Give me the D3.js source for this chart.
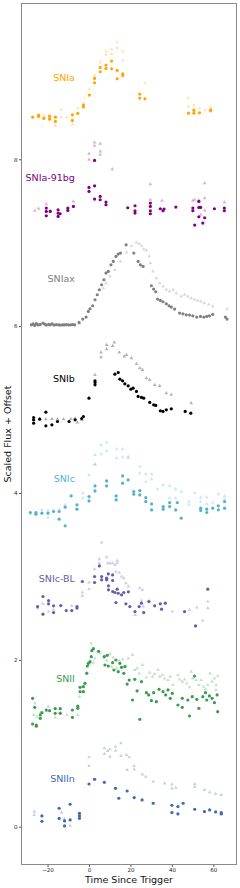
<!DOCTYPE html>
<html>
<head>
<meta charset="utf-8">
<script src="https://cdn.jsdelivr.net/npm/d3@7"></script>
<style>
  body { margin: 0; background: #fff; }
  svg { display: block; font-family: "DejaVu Sans", sans-serif; }
</style>
</head>
<body>
<div id="chart"></div>
<script>
// class names, bottom to top, with their offsets and colours
var classNames = ['SNIIn', 'SNII', 'SNIc-BL', 'SNIc', 'SNIb', 'SNIax', 'SNIa-91bg', 'SNIa'];
var offsets = [0, 1.2, 2.4, 3.6, 4.8, 6.0, 7.2, 8.4];
var colors = ['#3f69b1', '#3b9b4e', '#6b5aad', '#4fb3d0', '#000000', '#808080', '#800080', '#ffa500'];
var xTicks = [-20, 0, 20, 40, 60];
var yTicks = [0, 2, 4, 6, 8];

// [time, scaled flux] - dots = circles, tris = triangles
var snIaDots = [[-27.2,0.105],[-24.3,0.129],[-24.3,0.113],[-21.8,0.089],[-19,0.113],[-19,0.081],[-16.2,0.105],[-16.2,0.053],
  [-8,0.133],[-8,0.065],[-5.4,0.149],[-2.7,0.249],[-2.7,0.225],[0.2,0.369],[2.7,0.569],[2.7,0.517],[5.4,0.701],[5.4,0.649],
  [8.2,0.729],[8.2,0.689],[10.9,0.777],[10.9,0.685],[13.6,0.665],[13.6,0.565],[16.3,0.625],[16.3,0.605],[24.5,0.381],[24.5,0.333],
  [27,0.325],[48,0.153],[50.6,0.185],[50.6,0.153],[53.3,0.157],[58.7,0.193],[58.7,0.181]];
var snIaTris = [[-21.8,0.113],[-19,0.129],[-16.2,0.005],[-13.4,0.193],[-13.4,0.105],[-10.7,0.105],[-8,0.025],[-5.4,0.209],
  [-2.7,0.265],[0.2,0.433],[2.7,0.601],[5.4,0.761],[8.2,0.893],[8.2,0.853],[10.9,0.92],[10.9,0.864],[13.6,1.004],[13.6,0.936],
  [16.3,0.893],[16.3,0.785],[27,0.513],[48,0.333],[48,0.233],[50.6,0.249],[50.6,0.205],[53.3,0.209],[56,0.189],[58.7,0.225]];

var sn91bgDots = [[-20.6,0.215],[-20.6,0.175],[-20.6,0.123],[-18.7,0.175],[-14.9,0.195],[-14.9,0.155],[-14.9,0.115],[-13.9,0.147],
  [-10.2,0.215],[-10.2,0.187],[-7.5,0.235],[0,0.462],[0,0.415],[2.7,0.786],[2.7,0.482],[2.7,0.323],[5.4,0.355],[5.4,0.315],
  [8.2,0.287],[8.2,0.255],[18.7,0.219],[22.2,0.243],[22.2,0.183],[22.2,0.155],[29.6,0.275],[29.6,0.235],[29.6,0.183],[29.6,0.147],
  [34.4,0.207],[35.7,0.183],[36.2,0.203],[41.9,0.227],[50.1,0.215],[50.1,0.183],[53,0.295],[53,0.223],[53.9,0.223],[53,0.111],
  [51,0.011],[54.9,0.035],[55.8,0.099],[60.5,0.207],[65.3,0.215],[65.3,0.183]];
var sn91bgTris = [[-26.2,0.183],[-24.3,0.207],[-20.6,0.263],[-18.7,0.187],[-7.5,0.295],[0,0.866],[0,0.794],[2.7,1.002],[2.7,0.962],
  [5.4,0.986],[5.4,0.894],[5.4,0.854],[11.2,0.682],[29.6,0.502],[29.6,0.315],[35.2,0.303],[50.1,0.303],[51,0.315],[53,0.31],
  [55.8,0.335],[55.8,0.514],[55.8,0.187],[53.9,0.135],[65.3,0.283]];

var snIaxDots = [[-27.8,0.016],[-27,0.028],[-26.2,0.008],[-25.4,0.03],[-24.6,0.014],[-23.5,0.02],[-22.2,0.036],[-21.4,0.024],
  [-20.6,0.012],[-19.5,0.02],[-18.7,0.016],[-17.8,0.026],[-16.8,0.012],[-15.8,0.018],[-14.7,0.016],[-13.9,0.012],[-12.9,0.016],
  [-12,0.014],[-11,0.018],[-9.9,0.014],[-8.8,0.016],[-7.8,0.018],[-6.9,0.016],[-4.8,0.044],[-3,0.084],[-1.4,0.108],[-0.3,0.176],
  [0.5,0.208],[1.8,0.244],[2.9,0.316],[4,0.376],[5,0.436],[6.1,0.496],[7.2,0.556],[8.2,0.636],[9.3,0.656],[10.6,0.735],
  [11.7,0.775],[13,0.835],[14.1,0.863],[15.2,0.875],[17.9,0.975],[21.6,0.875],[23.7,0.775],[24.8,0.735],[26.1,0.715],
  [30.1,0.484],[31.2,0.444],[32.2,0.412],[33.1,0.324],[34.4,0.308],[35.7,0.292],[37.3,0.268],[38.6,0.244],[39.7,0.228],
  [41.3,0.204],[43.7,0.156],[45.3,0.148],[46.9,0.136],[48.5,0.132],[50.1,0.124],[52,0.108],[53.8,0.116],[55.4,0.108],
  [56.8,0.116],[58.1,0.124],[59.7,0.14],[65.8,0.108],[66.6,0.084]];
var snIaxTris = [[-4.6,0.028],[6.9,0.456],[8.2,0.516],[10.1,0.596],[12.5,0.675],[15.2,0.775],[18.1,0.883],[20.5,0.96],
  [22.9,1.003],[24.2,0.987],[25.3,0.963],[26.4,0.923],[27.7,0.907],[29,0.835],[29.6,0.755],[30.9,0.655],[32.5,0.575],
  [34.1,0.516],[35.7,0.476],[37.3,0.436],[38.9,0.416],[40.5,0.436],[42.1,0.396],[44.5,0.356],[46.1,0.376],[47.7,0.356],
  [49.3,0.336],[50.9,0.316],[52.5,0.304],[54.1,0.296],[55.7,0.276],[57.8,0.256],[59.7,0.236],[66.6,0.204]];

var snIbDots = [[-26.7,0.105],[-26.7,0.077],[-26.7,0.037],[-23.8,0.085],[-20.8,0.169],[-20.8,0.005],[-17.9,0.017],[-15.2,0.057],
  [-9.6,0.057],[-6.7,0.077],[-3.5,0.093],[-2.7,0.117],[0,0.337],[2.9,0.544],[2.9,0.524],[2.9,0.496],[12.5,0.624],[14.1,0.644],
  [14.9,0.564],[16.2,0.544],[17.3,0.508],[18.9,0.484],[20.2,0.444],[21.3,0.456],[22.9,0.417],[23.7,0.357],[25.3,0.345],
  [26.4,0.337],[29.3,0.285],[31.2,0.257],[32.2,0.25],[34.4,0.185],[35.7,0.177],[37.3,0.197],[39.7,0.209],[46.4,0.177],[49.1,0.157]];
var snIbTris = [[-26.7,0.077],[-23.8,0.09],[-20.8,0.085],[-17.9,0.089],[-15.2,0.085],[-12.3,0.085],[-8.8,0.089],[-6.7,0.093],
  [-5.6,0.045],[-3.5,0.077],[2.9,0.616],[5.8,0.828],[5.8,0.884],[8.5,0.976],[8.5,0.924],[12.2,1.004],[11.4,0.964],[14.6,0.884],
  [17,0.836],[18.1,0.856],[20.5,0.816],[22.9,0.748],[24.5,0.696],[25.8,0.676],[27.7,0.576],[29.3,0.556],[31.7,0.496],
  [34.1,0.484],[37.3,0.397],[39.7,0.377],[49.3,0.277]];

var snIcDots = [[-28.3,0.166],[-25.6,0.166],[-25.6,0.146],[-22.7,0.158],[-19.8,0.158],[-17.1,0.178],[-14.4,0.178],[-14.4,0.086],
  [-11.5,0.23],[-11.5,0.006],[-8.6,0.365],[-5.8,0.258],[-5.8,0.206],[0,0.357],[0,0.305],[2.9,0.485],[2.9,0.425],[8.5,0.545],
  [8.5,0.485],[13.1,0.365],[13.1,0.317],[16.2,0.605],[16.2,0.517],[18.9,0.557],[21.6,0.417],[21.6,0.385],[24.5,0.429],
  [24.5,0.377],[27.4,0.345],[27.4,0.297],[30.2,0.269],[30.2,0.197],[35.8,0.237],[35.8,0.205],[38.9,0.285],[38.9,0.237],
  [41.8,0.197],[42.6,0.285],[44.5,0.098],[53.9,0.218],[53.9,0.19],[56.8,0.206],[56.8,0.166],[59.7,0.218],[62.4,0.246],
  [62.4,0.198],[65.4,0.297],[65.4,0.218]];
var snIcTris = [[-28.3,0.146],[-22.7,0.198],[-19.8,0.19],[-19.8,0.106],[-17.1,0.19],[-14.4,0.206],[-11.5,0.258],[-3,0.397],
  [-3,0.337],[0,0.617],[2.9,0.749],[2.9,0.857],[2.9,0.737],[5.8,0.977],[5.8,0.865],[8.5,1.005],[8.5,0.905],[13.3,0.925],
  [13.3,0.817],[16.2,0.925],[16.2,0.829],[18.9,0.837],[18.9,0.817],[24.5,0.717],[24.5,0.637],[27.4,0.629],[27.4,0.537],
  [30.2,0.625],[30.2,0.565],[33,0.445],[35.8,0.497],[38.9,0.485],[38.9,0.337],[41.8,0.445],[41.8,0.337],[44.5,0.417],
  [48.2,0.297],[48.2,0.26],[51,0.405],[53.9,0.345],[53.9,0.297],[56.8,0.349],[56.8,0.27],[59.7,0.285],[62.4,0.385],
  [65.4,0.365],[65.4,0.325]];

var snIcBLDots = [[-24.8,0.239],[-22.2,0.359],[-22.2,0.147],[-19.5,0.311],[-19.5,0.271],[-17.1,0.247],[-17.1,0.167],[-13.6,0.251],
  [-11,0.191],[-8.3,0.191],[-5.8,0.239],[-5.8,0.22],[-3.2,0.539],[2.7,0.598],[2.7,0.527],[5,0.726],[6.1,0.598],[6.1,0.559],
  [8.5,0.579],[8.5,0.559],[9.3,0.63],[11.4,0.618],[11.4,0.551],[9.4,0.487],[9.4,0.439],[11.4,0.419],[12.5,0.407],[13.6,0.447],
  [14.1,0.398],[15.7,0.379],[16.8,0.407],[19,0.415],[13,0.287],[17.8,0.271],[19.7,0.239],[22.2,0.179],[24.2,0.239],[25.3,0.279],
  [26.4,0.167],[28.9,0.299],[31.7,0.247],[34.4,0.271],[35,0.207],[36.8,0.279],[46.1,0.179],[51.4,0.007],[57.3,0.447]];
var snIcBLTris = [[-24.8,0.219],[-22.2,0.271],[-19.5,0.179],[-17.1,0.2],[-8.3,0.247],[-5.8,0.22],[-3.2,0.407],[-3.2,0.367],
  [0,0.527],[0,0.447],[2.7,0.686],[5,0.806],[5,0.758],[6.1,1.006],[8.5,0.83],[9,0.758],[10.1,0.758],[11.4,0.758],[12.5,0.738],
  [13.6,0.79],[13.6,0.758],[13,0.658],[14.6,0.646],[15.7,0.598],[16.8,0.579],[17.8,0.519],[18.9,0.479],[24.5,0.459],[25.8,0.439],
  [25.3,0.311],[26.1,0.24],[22.2,0.139],[28.9,0.31],[40.2,0.179],[48.5,0.199],[52,0.227],[54.9,0.071],[57.3,0.299],[57.3,0.219]];

var snIIDots = [[-27.2,0.339],[-27.2,0.031],[-26.2,0.231],[-25.4,0.019],[-25.4,0.005],[-23.5,0.099],[-23.5,0.139],[-22.7,0.167],
  [-20.6,0.199],[-19,0.191],[-16.3,0.215],[-16.3,0.159],[-13.9,0.215],[-13.9,0.159],[-8,0.199],[-8,0.111],[-5.4,0.219],
  [-5.4,0.245],[-4.3,0.471],[-4.3,0.419],[-2.7,0.479],[-2.7,0.419],[-1.9,0.518],[-1.1,0.638],[-0.8,0.726],[-0.3,0.758],
  [0.5,0.778],[1.1,0.838],[1.4,0.91],[2.1,0.934],[4.6,0.902],[7.4,0.838],[8.8,0.854],[7.7,0.738],[9.3,0.726],[11.4,0.766],
  [12,0.678],[13,0.798],[14.1,0.658],[14.9,0.758],[15.7,0.71],[16.8,0.638],[17.3,0.718],[18.4,0.51],[19.4,0.558],[21,0.319],
  [22.1,0.566],[23.2,0.427],[24.5,0.087],[25.3,0.538],[27.7,0.407],[28.8,0.379],[30.1,0.311],[31.2,0.407],[32.5,0.299],
  [33.8,0.447],[35.7,0.419],[37,0.379],[38.1,0.439],[39.2,0.339],[40.2,0.399],[42.9,0.259],[45,0.231],[45,0.339],[47.7,0.319],
  [48.5,0.127],[49.8,0.359],[50.9,0.606],[52,0.327],[53,0.219],[54.9,0.359],[56.2,0.407],[56.8,0.319],[58.1,0.367],
  [59.4,0.339],[60.5,0.287],[61.8,0.379],[62.1,0.179]];
var snIITris = [[-26.7,0.139],[-26.2,0.279],[-25.2,0.12],[-23.5,0.167],[-20.6,0.19],[-19.7,0.239],[-16.3,0.111],[-13.9,0.17],
  [-10.7,0.139],[-5.4,0.139],[-4.6,0.359],[-2.2,0.518],[-0.8,0.646],[0.5,0.758],[1,0.998],[2.1,0.766],[2.9,0.818],[5.3,0.878],
  [6.9,0.83],[8.5,0.79],[10.1,0.87],[10.9,0.718],[11.7,0.83],[13.3,0.698],[14.6,0.79],[16.2,0.806],[17.8,0.726],[18.9,0.818],
  [21,0.858],[22.1,0.678],[23.2,0.698],[24.2,0.638],[25.8,0.738],[27.7,0.59],[29.3,0.646],[30.6,0.598],[31.7,0.63],[33.3,0.678],
  [34.1,0.598],[35.4,0.618],[36.5,0.578],[38.1,0.558],[39.2,0.598],[40.5,0.498],[42.9,0.618],[43.7,0.566],[45,0.538],
  [46.1,0.566],[47.2,0.518],[48.5,0.471],[49.3,0.658],[50.1,0.578],[51.7,0.558],[53,0.498],[54.1,0.558],[55.2,0.479],
  [56.2,0.447],[57.3,0.498],[58.4,0.638],[59.4,0.538],[60.5,0.578],[61.3,0.498],[62.1,0.606],[61.3,0.44]];

var snIInDots = [[-22.7,0.129],[-22.7,0.065],[-14.4,0.221],[-14.4,0.101],[-11.8,0.069],[-11.8,0.009],[-9.1,0.269],[-9.1,0.081],
  [-4.6,0.161],[-4.6,0.129],[-4.6,0.101],[0,0.512],[2.7,0.568],[7.4,0.532],[12.8,0.46],[14.4,0.341],[18.4,0.428],[21.8,0.349],
  [25.6,0.321],[31,0.281],[40,0.257],[40,0.169],[42.9,0.241],[42.9,0.153],[45.4,0.281],[51,0.209],[55.7,0.181],[58.2,0.201],
  [61.1,0.177],[63.8,0.169],[63.8,0.153]];
var snIInTris = [[-26.4,0.181],[-26.4,0.141],[-13.2,0.169],[-14.4,0.09],[-11.8,0.093],[-9.1,0.013],[-4.6,0.14],[0,0.832],[0,0.728],
  [7.4,0.94],[7.4,0.872],[9,0.908],[10.1,0.928],[10.1,0.84],[12.8,0.96],[12.8,0.912],[15.4,1.0],[15.4,0.848],[18.1,0.86],
  [19.4,0.832],[18.4,0.68],[21.8,0.728],[21.8,0.688],[25.8,0.628],[27.4,0.6],[31,0.54],[36.5,0.52],[40,0.508],[40,0.46],
  [41.9,0.468],[51,0.512],[51,0.48],[55.7,0.44],[58.2,0.412],[61.1,0.392],[63.8,0.38]];

var dotSets = [snIInDots, snIIDots, snIcBLDots, snIcDots, snIbDots, snIaxDots, sn91bgDots, snIaDots];
var triSets = [snIInTris, snIITris, snIcBLTris, snIcTris, snIbTris, snIaxTris, sn91bgTris, snIaTris];

var margin = { top: 3, right: 3, bottom: 23, left: 21 },
  width = 240 - margin.left - margin.right,
  height = 888 - margin.top - margin.bottom;

var svg = d3.select('#chart')
  .append('svg')
  .attr('width', 240)
  .attr('height', 888);

var g = svg.append('g')
  .attr('transform', 'translate(' + margin.left + ',' + margin.top + ')');

var x = d3.scaleLinear().domain([-32.8, 71.4]).range([0, width]);
var y = d3.scaleLinear().domain([-0.459, 9.873]).range([height, 0]);

// frame
g.append('rect')
  .attr('x', 0.5).attr('y', 0.5)
  .attr('width', width - 1).attr('height', height - 1)
  .attr('fill', 'none').attr('stroke', '#8a8a8a').attr('stroke-width', 1);

// axes
var xAxis = g.append('g')
  .attr('transform', 'translate(0,' + height + ')')
  .call(d3.axisBottom(x).tickValues(xTicks).tickSize(2).tickPadding(1.5).tickFormat(d3.format('d')));
var yAxis = g.append('g')
  .call(d3.axisLeft(y).tickValues(yTicks).tickSize(2).tickPadding(1.5));
[xAxis, yAxis].forEach(function(a) {
  a.select('.domain').remove();
  a.selectAll('line').attr('stroke', '#555');
  a.selectAll('text').attr('font-size', 5.5).attr('fill', '#222').attr('font-family', '"DejaVu Sans", sans-serif');
});
xAxis.selectAll('text').text(function(d) { return d < 0 ? '\u2212' + Math.abs(d) : d; });

// axis labels
svg.append('text')
  .attr('x', margin.left + width / 2).attr('y', 882.5)
  .attr('text-anchor', 'middle').attr('font-size', 9.5).attr('fill', '#111')
  .text('Time Since Trigger');
svg.append('text')
  .attr('transform', 'translate(11,' + (margin.top + height / 2) + ') rotate(-90)')
  .attr('text-anchor', 'middle').attr('font-size', 9.5).attr('fill', '#111')
  .text('Scaled Flux + Offset');

var tri = d3.symbol().type(d3.symbolTriangle).size(6);

classNames.forEach(function(name, i) {
  var off = offsets[i], col = colors[i];
  var layer = g.append('g');

  // triangles, faded
  layer.append('g').selectAll('path')
    .data(triSets[i]).enter().append('path')
    .attr('d', tri)
    .attr('transform', function(d) { return 'translate(' + x(d[0]) + ',' + y(d[1] + off) + ')'; })
    .attr('fill', col).attr('fill-opacity', 0.3);

  // circles
  layer.append('g').selectAll('circle')
    .data(dotSets[i]).enter().append('circle')
    .attr('cx', function(d) { return x(d[0]); })
    .attr('cy', function(d) { return y(d[1] + off); })
    .attr('r', 1.6)
    .attr('fill', col);

  // class label
  layer.append('text')
    .attr('x', x(-6.8)).attr('y', y(off + 0.574))
    .attr('dy', '0.35em')
    .attr('text-anchor', 'end').attr('font-size', 9.5)
    .attr('fill', col)
    .text(name);
});
</script>
</body>
</html>
